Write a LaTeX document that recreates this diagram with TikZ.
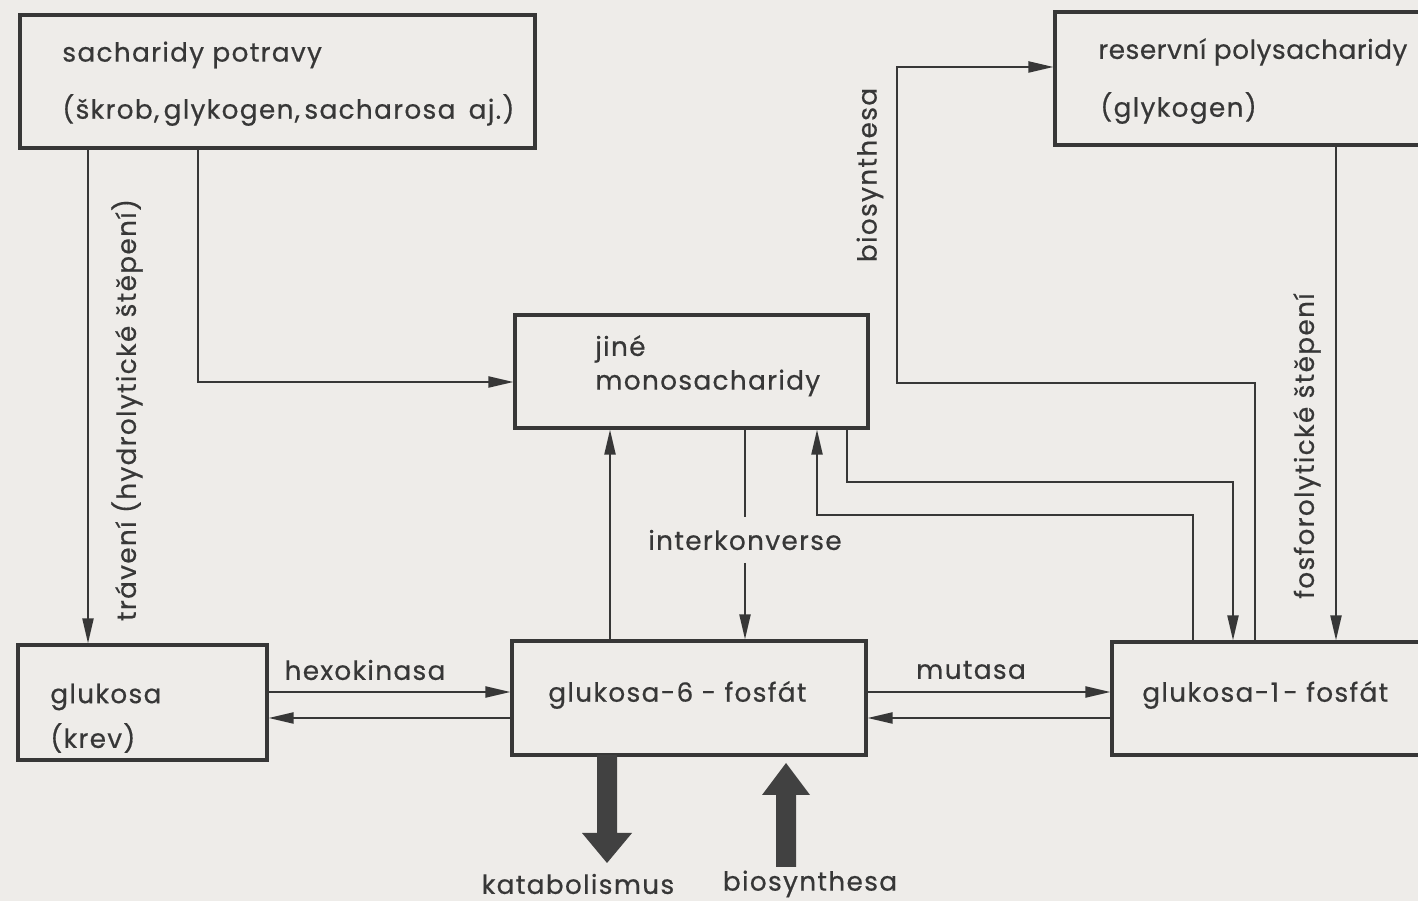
\documentclass[tikz,border=0pt]{standalone}
\usepackage{fontspec}
\setmainfont{Poppins}[LetterSpace=5, FakeBold=0.5]
\usepackage{tikz}
\usetikzlibrary{arrows.meta}

\definecolor{paper}{RGB}{238,236,233}
\definecolor{ink}{RGB}{55,55,55}

\begin{document}
\begin{tikzpicture}[
    x=0.02cm, y=-0.02cm,
    box/.style={draw=ink, line width=1.8pt, rectangle, inner sep=0pt},
    txt/.style={inner sep=0pt, text=ink, font=\fontsize{15}{18}\selectfont},
    flow/.style={draw=ink, line width=1.2pt, -{Triangle[length=5mm,width=2.2mm]}},
    link/.style={draw=ink, line width=1.2pt}
]
\path[use as bounding box, fill=paper] (0,0) rectangle (1418,901);
\clip (0,0) rectangle (1418,901);

% boxes
\node[box, minimum width=10.3cm, minimum height=2.66cm] (food)  at (277.5,81.5) {};
\node[box, minimum width=7.7cm,  minimum height=2.66cm] (store) at (1247.5,78.5) {};
\node[box, minimum width=7.06cm, minimum height=2.26cm] (other) at (691.5,371.5) {};
\node[box, minimum width=4.98cm, minimum height=2.3cm]  (glc)   at (142.5,702.5) {};
\node[box, minimum width=7.08cm, minimum height=2.28cm] (g6p)   at (689,698) {};
\node[box, minimum width=6.56cm, minimum height=2.26cm] (g1p)   at (1276,698.5) {};

% box texts
\node[txt, anchor=west] (food-a)  at (62,55)    {sacharidy potravy};
\node[txt, anchor=west] (food-b)  at (62,110)   {(škrob,\,glykogen,\,sacharosa\enspace aj.)};
\node[txt, anchor=west] (store-a) at (1098,52)  {\addfontfeatures{LetterSpace=2}reservní polysacharidy};
\node[txt, anchor=west] (store-b) at (1100,108) {(glykogen)};
\node[txt, anchor=west] (other-a) at (595,349)  {jiné};
\node[txt, anchor=west] (other-b) at (595,383)  {monosacharidy};
\node[txt, anchor=west] (glc-a)   at (50,697)   {glukosa};
\node[txt, anchor=west] (glc-b)   at (50,738)   {(krev)};
\node[txt, anchor=west] (g6p-a)   at (548,695)  {glukosa-6 - fosfát};
\node[txt, anchor=west] (g1p-a)   at (1142,695) {glukosa-1\,- fosfát};

% lanes and bends
\coordinate (d)  at (88,0);
\coordinate (k)  at (198,382);
\coordinate (u)  at (610,0);
\coordinate (ja) at (847,482);
\coordinate (jb) at (1233,482);
\coordinate (ia) at (1193,515);
\coordinate (ib) at (817,515);
\coordinate (ba) at (1255,383);
\coordinate (bb) at (897,383);
\coordinate (bc) at (897,67);
\coordinate (f)  at (1336,0);
\coordinate (h1) at (0,692);
\coordinate (h2) at (0,718);

% digestion and transfer to other monosaccharides
\draw[flow] (food.south -| d) -- (glc.north -| d);
\draw[flow] (food.south -| k) |- (other.west |- k);
\node[txt, rotate=90] (dig) at (127,410) {trávení (hydrolytické štěpení)};

% interconversion
\node[txt, inner ysep=7pt] (ik) at (745,540) {interkonverse};
\draw[flow] (g6p.north -| u) -- (other.south -| u);
\draw[link] (other.south -| ik) -- (ik.north);
\draw[flow] (ik.south) -- (g6p.north -| ik);
\draw[flow] (other.south -| ja) -- (ja) -- (jb) -- (g1p.north -| jb);
\draw[flow] (g1p.north -| ia) -- (ia) -- (ib) -- (other.south -| ib);

% glycogen synthesis and breakdown
\draw[flow] (g1p.north -| ba) -- (ba) -- (bb) -- (bc) -- (store.west |- bc);
\node[txt, rotate=90] (syn) at (870,175) {biosynthesa};
\draw[flow] (store.south -| f) -- (g1p.north -| f);
\node[txt, rotate=90] (phos) at (1307,446) {fosforolytické štěpení};

% hexokinase and mutase
\draw[flow] (glc.east |- h1) -- (g6p.west |- h1);
\draw[flow] (g6p.west |- h2) -- (glc.east |- h2);
\node[txt] (hk) at (365,670) {hexokinasa};
\draw[flow] (g6p.east |- h1) -- (g1p.west |- h1);
\draw[flow] (g1p.west |- h2) -- (g6p.east |- h2);
\node[txt] (mut) at (971,670) {mutasa};

% catabolism / biosynthesis
\fill[ink!95] (597,755) -- (617,755) -- (617,833) -- (632,833) -- (607,863)
  -- (582,833) -- (597,833) -- cycle;
\fill[ink!95] (776,867) -- (776,795) -- (762,795) -- (786,763) -- (810,795)
  -- (796,795) -- (796,867) -- cycle;
\node[txt] (cat) at (578,884) {katabolismus};
\node[txt] (bio) at (810,884) {biosynthesa};
\end{tikzpicture}
\end{document}
